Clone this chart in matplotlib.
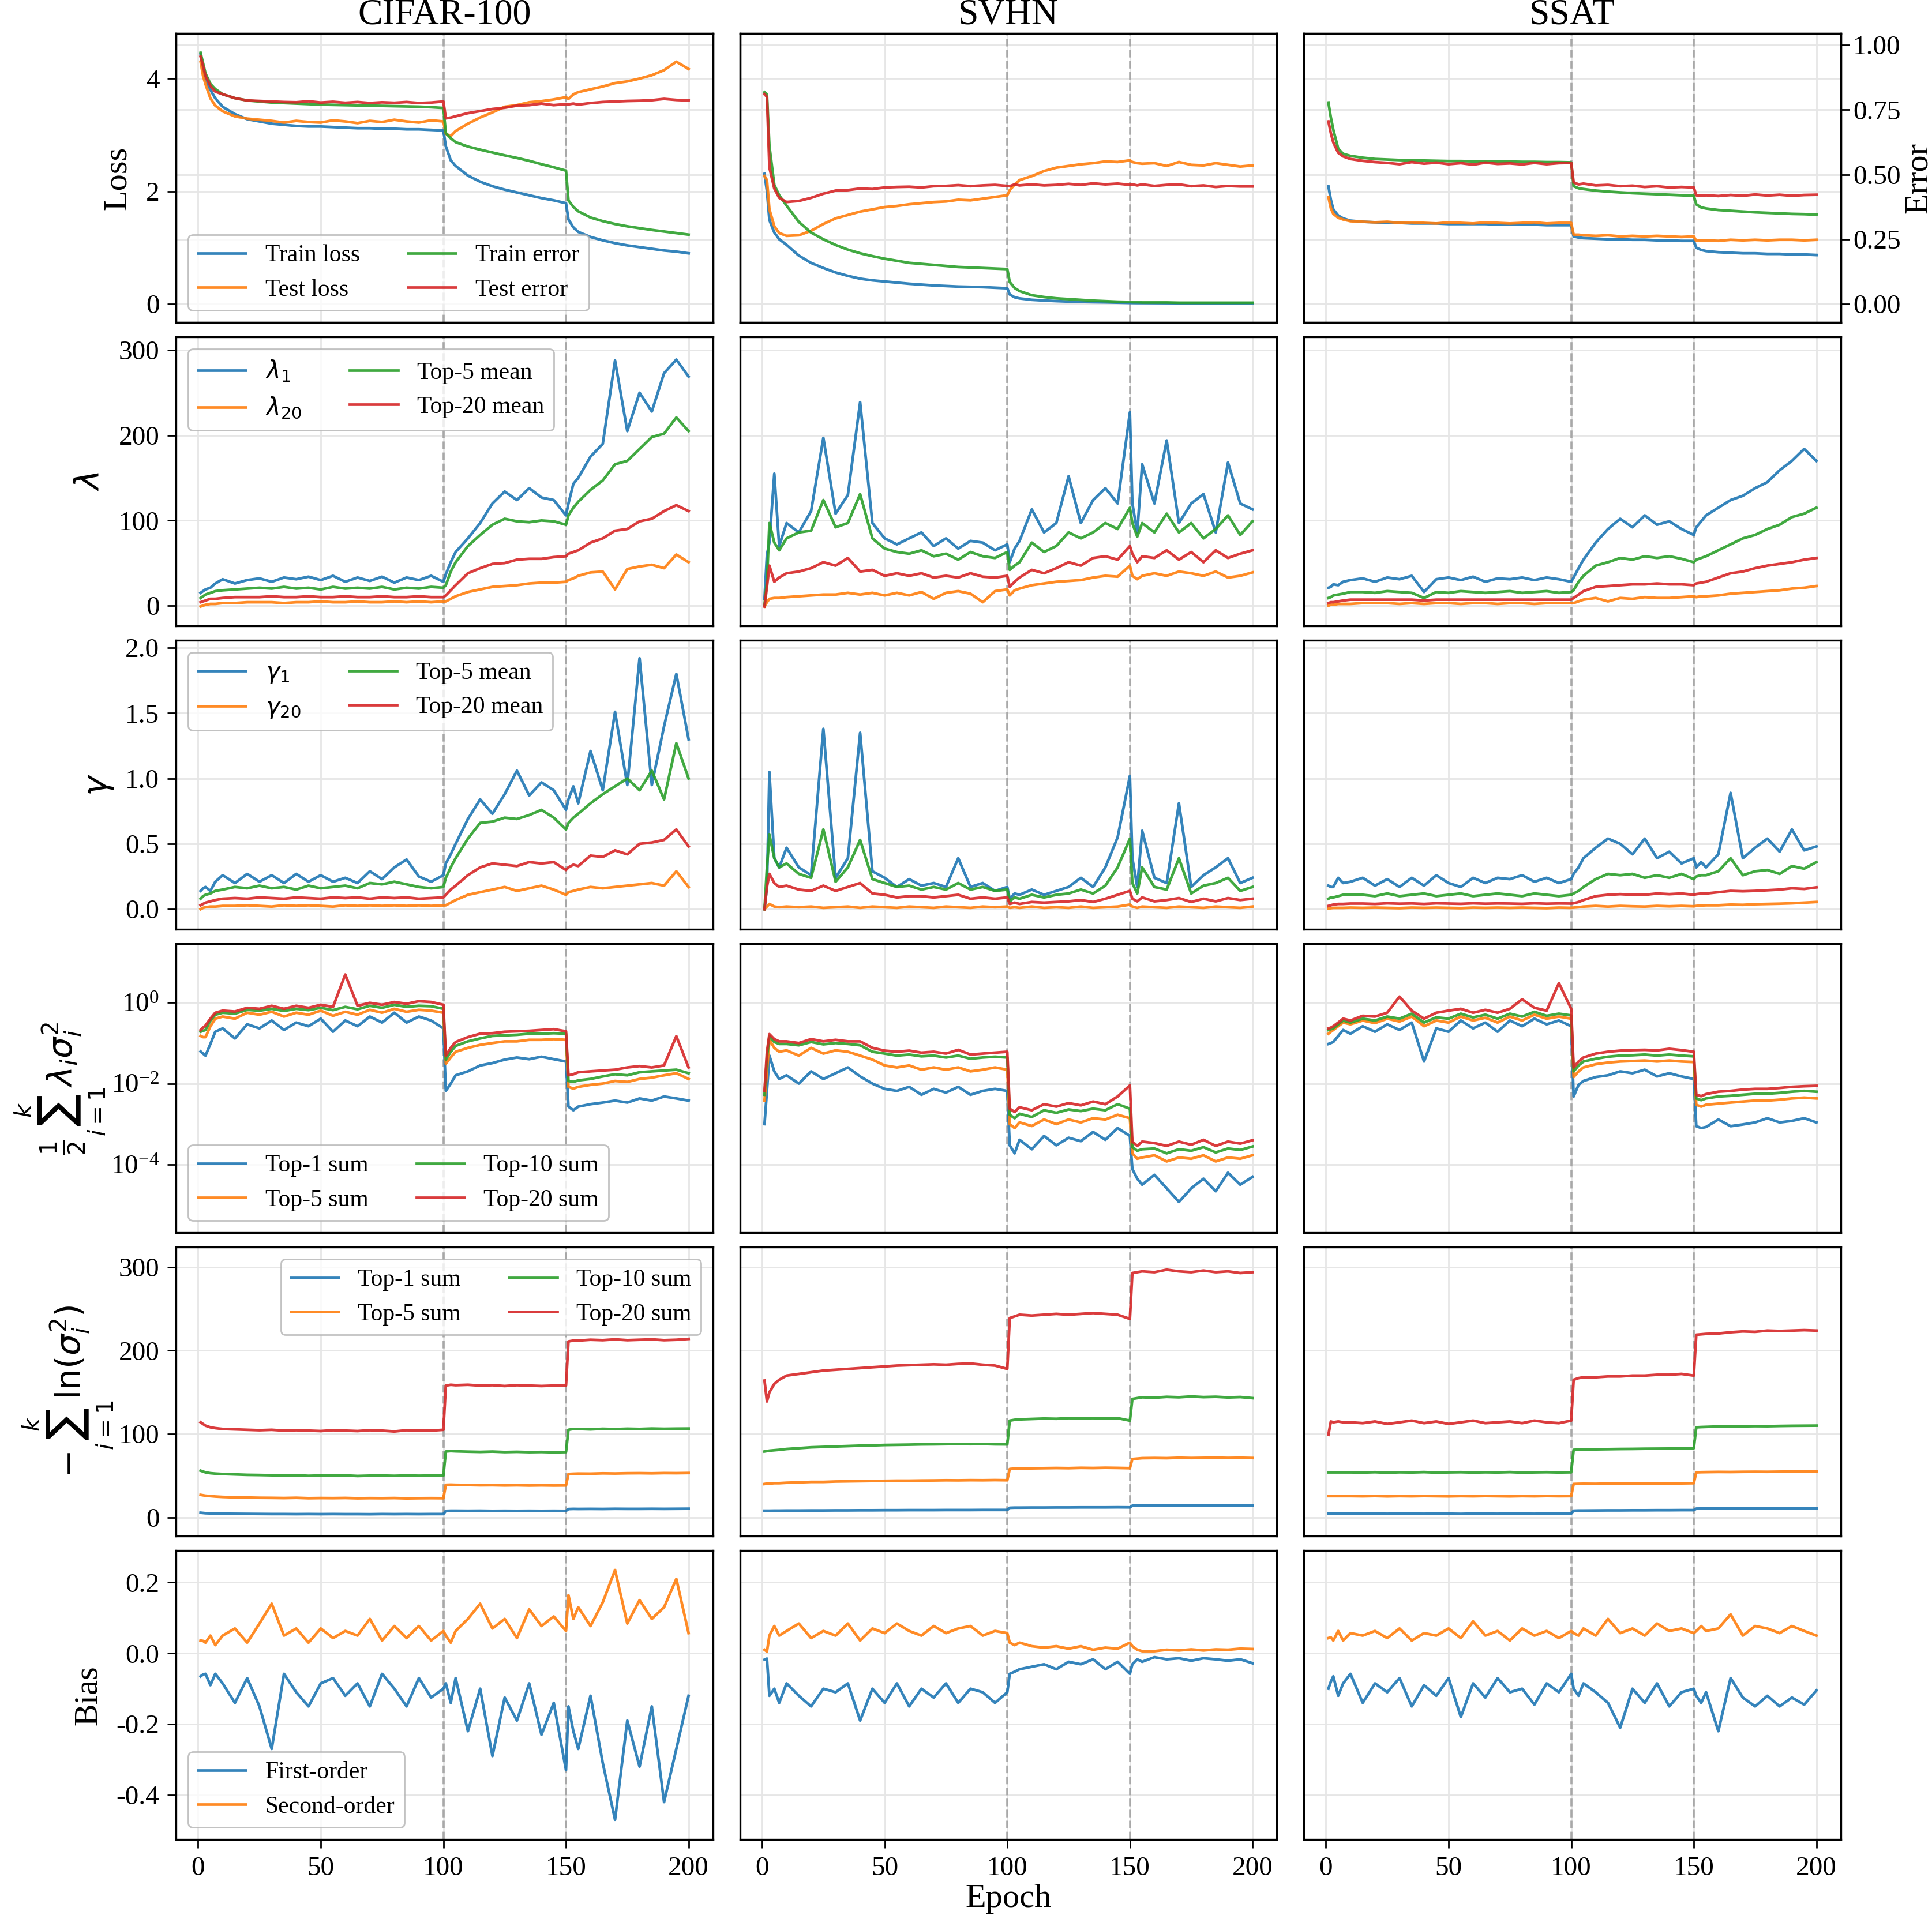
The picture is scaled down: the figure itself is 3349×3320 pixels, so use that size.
import matplotlib.pyplot as plt
from matplotlib.lines import Line2D
from matplotlib.ticker import NullLocator, FormatStrFormatter
from matplotlib.transforms import blended_transform_factory

plt.rcParams['font.family'] = ['Liberation Serif', 'DejaVu Serif']
plt.rcParams['mathtext.fontset'] = 'dejavusans'
plt.rcParams['axes.unicode_minus'] = False
plt.rcParams['axes.linewidth'] = 1.2

epochs = [1, 2, 3, 5, 7, 10,
          15, 20, 25, 30, 35, 40, 45, 50, 55, 60, 65, 70, 75, 80, 85, 90, 95, 100,
          101, 103,
          105, 110, 115, 120, 125, 130, 135, 140, 145, 150,
          151, 153,
          155, 160, 165, 170, 175, 180, 185, 190, 195, 200]

datasets = ['CIFAR-100', 'SVHN', 'SSAT']

# ---- row 1: loss / error ----
cifar_train_loss = [4.43, 4.20, 4.00, 3.80, 3.65, 3.50,
                    3.37, 3.28, 3.24, 3.20, 3.18, 3.16, 3.15, 3.15, 3.14, 3.13, 3.12, 3.12, 3.11, 3.11, 3.10, 3.10, 3.09, 3.08,
                    2.80, 2.55,
                    2.45, 2.28, 2.17, 2.09, 2.03, 1.98, 1.93, 1.88, 1.84, 1.79,
                    1.50, 1.36,
                    1.28, 1.19, 1.13, 1.08, 1.04, 1.01, 0.98, 0.95, 0.93, 0.90]
cifar_test_loss = [4.30, 4.05, 3.90, 3.65, 3.52, 3.42,
                   3.33, 3.29, 3.27, 3.25, 3.22, 3.25, 3.23, 3.22, 3.26, 3.24, 3.21, 3.25, 3.23, 3.27, 3.24, 3.22, 3.26, 3.24,
                   3.02, 2.98,
                   3.07, 3.20, 3.31, 3.40, 3.50, 3.53, 3.58, 3.60, 3.63, 3.67,
                   3.64, 3.72,
                   3.76, 3.81, 3.86, 3.92, 3.95, 4.00, 4.06, 4.15, 4.30, 4.17]
cifar_train_err = [0.970, 0.930, 0.890, 0.850, 0.830, 0.810,
                   0.795, 0.786, 0.782, 0.778, 0.776, 0.774, 0.772, 0.770, 0.769, 0.768, 0.767, 0.766, 0.765, 0.764, 0.763, 0.762, 0.760, 0.757,
                   0.660, 0.640,
                   0.625, 0.608, 0.596, 0.585, 0.574, 0.564, 0.553, 0.540, 0.528, 0.515,
                   0.400, 0.375,
                   0.358, 0.334, 0.320, 0.309, 0.300, 0.293, 0.286, 0.280, 0.274, 0.268]
cifar_test_err = [0.955, 0.920, 0.880, 0.842, 0.820, 0.810,
                  0.795, 0.786, 0.784, 0.782, 0.780, 0.779, 0.783, 0.778, 0.781, 0.777, 0.780, 0.776, 0.779, 0.777, 0.780, 0.776, 0.778, 0.782,
                  0.717, 0.720,
                  0.725, 0.737, 0.745, 0.753, 0.758, 0.766, 0.768, 0.774, 0.768, 0.772,
                  0.771, 0.774,
                  0.770, 0.776, 0.780, 0.782, 0.784, 0.785, 0.787, 0.792, 0.788, 0.786]

svhn_train_loss = [2.31, 2.00, 1.49, 1.27, 1.15, 1.05,
                   0.86, 0.73, 0.64, 0.56, 0.50, 0.45, 0.42, 0.40, 0.38, 0.36, 0.345, 0.33, 0.32, 0.31, 0.305, 0.30, 0.29, 0.28,
                   0.17, 0.12,
                   0.10, 0.075, 0.062, 0.052, 0.044, 0.037, 0.033, 0.030, 0.025, 0.020,
                   0.019, 0.018,
                   0.018, 0.017, 0.016, 0.015, 0.015, 0.014, 0.014, 0.013, 0.013, 0.012]
svhn_test_loss = [2.27, 2.20, 1.68, 1.38, 1.26, 1.21,
                  1.22, 1.30, 1.42, 1.52, 1.58, 1.64, 1.68, 1.72, 1.74, 1.77, 1.79, 1.81, 1.82, 1.85, 1.84, 1.87, 1.90, 1.93,
                  2.02, 2.12,
                  2.20, 2.27, 2.36, 2.42, 2.45, 2.48, 2.50, 2.53, 2.52, 2.55,
                  2.52, 2.50,
                  2.49, 2.50, 2.45, 2.52, 2.47, 2.46, 2.50, 2.47, 2.44, 2.46]
svhn_train_err = [0.818, 0.810, 0.610, 0.460, 0.420, 0.380,
                  0.317, 0.276, 0.250, 0.228, 0.210, 0.196, 0.185, 0.175, 0.167, 0.159, 0.155, 0.151, 0.147, 0.143, 0.141, 0.139, 0.137, 0.135,
                  0.085, 0.062,
                  0.050, 0.034, 0.027, 0.022, 0.019, 0.016, 0.013, 0.011, 0.009, 0.008,
                  0.007, 0.007,
                  0.006, 0.006, 0.006, 0.005, 0.005, 0.005, 0.005, 0.005, 0.005, 0.005]
svhn_test_err = [0.810, 0.800, 0.527, 0.446, 0.410, 0.394,
                 0.398, 0.410, 0.426, 0.438, 0.440, 0.446, 0.444, 0.450, 0.452, 0.453, 0.450, 0.455, 0.456, 0.459, 0.455, 0.458, 0.460, 0.456,
                 0.455, 0.462,
                 0.458, 0.462, 0.458, 0.460, 0.464, 0.460, 0.466, 0.462, 0.465, 0.460,
                 0.462, 0.458,
                 0.462, 0.456, 0.460, 0.462, 0.455, 0.458, 0.452, 0.456, 0.454, 0.454]

ssat_train_loss = [2.09, 1.85, 1.68, 1.57, 1.52, 1.48,
                   1.46, 1.45, 1.44, 1.44, 1.43, 1.43, 1.43, 1.42, 1.42, 1.42, 1.42, 1.41, 1.41, 1.41, 1.41, 1.40, 1.40, 1.40,
                   1.20, 1.18,
                   1.17, 1.16, 1.15, 1.15, 1.14, 1.14, 1.13, 1.13, 1.12, 1.12,
                   1.00, 0.96,
                   0.94, 0.92, 0.91, 0.90, 0.90, 0.89, 0.89, 0.88, 0.88, 0.87]
ssat_test_loss = [1.90, 1.70, 1.60, 1.53, 1.50, 1.47,
                  1.46, 1.45, 1.46, 1.44, 1.45, 1.44, 1.43, 1.45, 1.44, 1.43, 1.45, 1.44, 1.43, 1.44, 1.45, 1.43, 1.44, 1.44,
                  1.23, 1.23,
                  1.22, 1.21, 1.22, 1.20, 1.21, 1.20, 1.21, 1.20, 1.19, 1.20,
                  1.12, 1.13,
                  1.13, 1.12, 1.14, 1.13, 1.14, 1.13, 1.14, 1.14, 1.13, 1.14]
ssat_train_err = [0.778, 0.720, 0.673, 0.600, 0.580, 0.572,
                  0.565, 0.560, 0.558, 0.556, 0.555, 0.554, 0.553, 0.552, 0.552, 0.551, 0.551, 0.550, 0.550, 0.549, 0.549, 0.548, 0.548, 0.547,
                  0.455, 0.447,
                  0.444, 0.438, 0.434, 0.431, 0.428, 0.426, 0.424, 0.422, 0.420, 0.418,
                  0.385, 0.373,
                  0.369, 0.363, 0.360, 0.357, 0.354, 0.352, 0.350, 0.348, 0.347, 0.345]
ssat_test_err = [0.705, 0.660, 0.624, 0.584, 0.570, 0.560,
                 0.553, 0.548, 0.545, 0.540, 0.548, 0.542, 0.546, 0.540, 0.544, 0.538, 0.546, 0.541, 0.543, 0.539, 0.545, 0.540, 0.544, 0.545,
                 0.470, 0.462,
                 0.465, 0.458, 0.460, 0.455, 0.457, 0.452, 0.455, 0.450, 0.452, 0.450,
                 0.420, 0.418,
                 0.420, 0.417, 0.421, 0.418, 0.423, 0.419, 0.422, 0.418, 0.421, 0.422]

# ---- row 2: lambda ----
cifar_lam1 = [15, 17, 19, 21, 26, 31,
              26, 30, 32, 28, 33, 31, 34, 30, 35, 28, 33, 29, 34, 27, 33, 30, 35, 28,
              37, 51,
              63, 79, 97, 120, 134, 124, 138, 127, 124, 106,
              120, 143,
              150, 175, 190, 288, 205, 250, 228, 273, 289, 269]
cifar_lam20 = [-1, 0, 1, 2, 2, 3,
               3, 4, 4, 4, 3, 4, 4, 5, 4, 4, 5, 4, 4, 5, 4, 5, 4, 5,
               5, 8,
               11, 16, 19, 22, 23, 24, 26, 27, 27, 28,
               30, 32,
               35, 39, 40, 19, 43, 46, 48, 44, 60, 51]
cifar_lam_top5 = [9, 11, 13, 15, 17, 18,
                  19, 20, 21, 20, 22, 20, 21, 19, 22, 20, 21, 20, 22, 19, 21, 20, 22, 21,
                  24, 40,
                  51, 70, 83, 95, 102, 99, 98, 100, 99, 95,
                  106, 115,
                  122, 136, 147, 166, 170, 184, 198, 202, 221, 205]
cifar_lam_top20 = [4, 5, 6, 8, 8, 9,
                   10, 10, 10, 11, 10, 10, 11, 10, 10, 11, 10, 10, 11, 10, 10, 11, 10, 10,
                   12, 18,
                   24, 38, 44, 49, 50, 54, 55, 55, 57, 58,
                   61, 63,
                   65, 74, 79, 88, 90, 99, 102, 111, 118, 111]

svhn_lam1 = [8, 60, 74, 155, 70, 97,
             86, 111, 197, 108, 130, 239, 97, 79, 72, 79, 86, 70, 79, 67, 76, 74, 65, 72,
             51, 67,
             76, 113, 86, 97, 152, 97, 124, 138, 120, 227,
             120, 86,
             166, 120, 194, 97, 120, 131, 86, 168, 120, 113]
svhn_lam20 = [-1, 4, 8, 9, 9, 10,
              11, 12, 13, 13, 15, 13, 15, 12, 15, 12, 16, 8, 15, 17, 14, 4, 17, 19,
              12, 18,
              20, 24, 26, 28, 29, 30, 33, 35, 34, 47,
              35, 31,
              35, 38, 35, 40, 38, 35, 40, 33, 35, 39]
svhn_lam_top5 = [1, 28, 97, 74, 65, 79,
                 86, 88, 124, 92, 97, 131, 79, 67, 63, 61, 65, 58, 61, 54, 63, 58, 56, 63,
                 42, 47,
                 51, 74, 63, 70, 86, 79, 86, 97, 90, 115,
                 97, 81,
                 97, 86, 108, 86, 97, 79, 90, 106, 83, 99]
svhn_lam_top20 = [-1, 22, 47, 28, 33, 38,
                  40, 44, 51, 47, 56, 40, 42, 35, 38, 35, 38, 33, 35, 33, 38, 34, 33, 35,
                  22, 28,
                  33, 42, 38, 44, 51, 47, 56, 58, 54, 70,
                  61, 51,
                  58, 56, 65, 54, 63, 51, 65, 56, 61, 65]

ssat_lam1 = [21, 22, 25, 24, 28, 30,
             32, 28, 33, 31, 35, 16, 31, 33, 30, 34, 28, 32, 31, 33, 30, 33, 31, 28,
             33, 44,
             54, 74, 90, 102, 92, 106, 95, 99, 90, 83,
             92, 99,
             106, 115, 124, 129, 138, 145, 159, 170, 184, 170]
ssat_lam20 = [0, 1, 1, 2, 2, 2,
              3, 3, 3, 2, 3, 2, 3, 3, 2, 3, 3, 2, 3, 3, 2, 3, 3, 3,
              3, 5,
              7, 9, 5, 9, 8, 10, 9, 9, 10, 11,
              10, 11,
              11, 12, 14, 15, 16, 17, 18, 20, 21, 23]
ssat_lam_top5 = [9, 10, 12, 13, 14, 16,
                 16, 15, 17, 16, 15, 9, 16, 15, 17, 16, 15, 16, 17, 15, 16, 17, 15, 16,
                 18, 28,
                 35, 47, 51, 56, 54, 58, 56, 58, 55, 51,
                 54, 56,
                 58, 65, 72, 79, 83, 90, 95, 104, 108, 115]
ssat_lam_top20 = [3, 4, 4, 5, 6, 7,
                  7, 7, 7, 7, 7, 6, 7, 7, 7, 7, 7, 7, 7, 7, 7, 7, 7, 7,
                  9, 13,
                  17, 22, 23, 24, 25, 25, 26, 25, 25, 24,
                  26, 27,
                  28, 33, 38, 40, 44, 47, 49, 51, 54, 56]

# ---- row 3: gamma ----
cifar_gam1 = [0.14, 0.16, 0.17, 0.14, 0.21, 0.26,
              0.20, 0.27, 0.21, 0.26, 0.20, 0.27, 0.21, 0.26, 0.21, 0.24, 0.20, 0.29, 0.23, 0.32, 0.38, 0.25, 0.21, 0.26,
              0.35, 0.42,
              0.50, 0.69, 0.84, 0.73, 0.88, 1.06, 0.87, 0.97, 0.91, 0.76,
              0.84, 0.94,
              0.81, 1.21, 0.91, 1.51, 0.95, 1.92, 0.95, 1.40, 1.80, 1.30]
cifar_gam20 = [0.00, 0.01, 0.015, 0.02, 0.02, 0.025,
               0.025, 0.03, 0.025, 0.02, 0.03, 0.025, 0.03, 0.025, 0.02, 0.03, 0.025, 0.03, 0.025, 0.03, 0.025, 0.03, 0.025, 0.03,
               0.03, 0.05,
               0.07, 0.11, 0.13, 0.15, 0.17, 0.14, 0.16, 0.18, 0.15, 0.11,
               0.13, 0.14,
               0.15, 0.17, 0.16, 0.17, 0.18, 0.19, 0.20, 0.18, 0.29, 0.17]
cifar_gam_top5 = [0.08, 0.10, 0.11, 0.12, 0.14, 0.15,
                  0.17, 0.16, 0.18, 0.16, 0.17, 0.15, 0.18, 0.16, 0.17, 0.18, 0.16, 0.20, 0.19, 0.21, 0.19, 0.17, 0.16, 0.17,
                  0.24, 0.32,
                  0.39, 0.54, 0.66, 0.67, 0.70, 0.69, 0.72, 0.76, 0.70, 0.61,
                  0.66, 0.70,
                  0.73, 0.81, 0.88, 0.94, 1.00, 0.91, 1.06, 0.84, 1.27, 1.00]
cifar_gam_top20 = [0.03, 0.04, 0.05, 0.06, 0.07, 0.08,
                   0.085, 0.08, 0.09, 0.085, 0.08, 0.09, 0.085, 0.08, 0.09, 0.085, 0.09, 0.08, 0.09, 0.085, 0.09, 0.08, 0.085, 0.09,
                   0.11, 0.15,
                   0.18, 0.26, 0.32, 0.35, 0.34, 0.33, 0.36, 0.35, 0.36, 0.30,
                   0.32, 0.34,
                   0.33, 0.41, 0.40, 0.45, 0.42, 0.50, 0.51, 0.53, 0.61, 0.48]

svhn_gam1 = [0.00, 0.17, 1.05, 0.39, 0.32, 0.47,
             0.32, 0.26, 1.38, 0.24, 0.39, 1.35, 0.29, 0.24, 0.17, 0.23, 0.18, 0.20, 0.17, 0.39, 0.17, 0.20, 0.14, 0.17,
             0.08, 0.12,
             0.11, 0.15, 0.11, 0.14, 0.17, 0.24, 0.17, 0.32, 0.55, 1.02,
             0.39, 0.17,
             0.60, 0.24, 0.20, 0.81, 0.17, 0.26, 0.32, 0.39, 0.20, 0.24]
svhn_gam20 = [0.00, 0.02, 0.04, 0.02, 0.015, 0.02,
              0.015, 0.02, 0.01, 0.015, 0.02, 0.01, 0.02, 0.015, 0.01, 0.02, 0.015, 0.01, 0.02, 0.015, 0.01, 0.02, 0.015, 0.02,
              0.01, 0.015,
              0.01, 0.02, 0.01, 0.015, 0.01, 0.02, 0.01, 0.015, 0.02, 0.035,
              0.02, 0.01,
              0.02, 0.015, 0.01, 0.02, 0.015, 0.01, 0.02, 0.015, 0.01, 0.02]
svhn_gam_top5 = [0.00, 0.32, 0.57, 0.39, 0.32, 0.35,
                 0.27, 0.24, 0.61, 0.21, 0.32, 0.53, 0.23, 0.20, 0.17, 0.18, 0.15, 0.17, 0.15, 0.20, 0.15, 0.17, 0.14, 0.15,
                 0.06, 0.09,
                 0.08, 0.11, 0.09, 0.11, 0.12, 0.15, 0.12, 0.18, 0.32, 0.54,
                 0.20, 0.12,
                 0.32, 0.17, 0.15, 0.39, 0.12, 0.18, 0.20, 0.24, 0.14, 0.17]
svhn_gam_top20 = [0.00, 0.17, 0.27, 0.20, 0.17, 0.18,
                  0.15, 0.14, 0.18, 0.14, 0.17, 0.20, 0.12, 0.11, 0.09, 0.10, 0.10, 0.09, 0.10, 0.11, 0.08, 0.09, 0.08, 0.09,
                  0.04, 0.05,
                  0.04, 0.055, 0.05, 0.055, 0.06, 0.07, 0.055, 0.08, 0.11, 0.14,
                  0.08, 0.06,
                  0.09, 0.06, 0.07, 0.085, 0.055, 0.08, 0.06, 0.085, 0.07, 0.08]

ssat_gam1 = [0.18, 0.17, 0.17, 0.24, 0.20, 0.21,
             0.24, 0.18, 0.23, 0.17, 0.24, 0.18, 0.26, 0.20, 0.17, 0.24, 0.20, 0.24, 0.23, 0.26, 0.21, 0.24, 0.20, 0.23,
             0.27, 0.32,
             0.39, 0.47, 0.54, 0.50, 0.42, 0.54, 0.39, 0.44, 0.35, 0.39,
             0.32, 0.36,
             0.32, 0.42, 0.89, 0.39, 0.47, 0.54, 0.44, 0.61, 0.45, 0.48]
ssat_gam20 = [0.005, 0.008, 0.01, 0.01, 0.01, 0.012,
              0.01, 0.012, 0.01, 0.008, 0.012, 0.01, 0.012, 0.01, 0.008, 0.012, 0.01, 0.012, 0.01, 0.012, 0.01, 0.008, 0.012, 0.01,
              0.012, 0.015,
              0.02, 0.025, 0.02, 0.025, 0.022, 0.02, 0.025, 0.022, 0.025, 0.022,
              0.025, 0.028,
              0.03, 0.03, 0.035, 0.033, 0.038, 0.04, 0.042, 0.045, 0.05, 0.055]
ssat_gam_top5 = [0.08, 0.09, 0.09, 0.10, 0.11, 0.11,
                 0.11, 0.10, 0.12, 0.10, 0.11, 0.12, 0.10, 0.11, 0.12, 0.10, 0.11, 0.12, 0.11, 0.10, 0.12, 0.11, 0.10, 0.11,
                 0.12, 0.14,
                 0.17, 0.23, 0.27, 0.26, 0.27, 0.24, 0.26, 0.24, 0.27, 0.23,
                 0.25, 0.26,
                 0.26, 0.29, 0.39, 0.26, 0.29, 0.30, 0.27, 0.33, 0.31, 0.36]
ssat_gam_top20 = [0.025, 0.03, 0.035, 0.04, 0.04, 0.043,
                  0.043, 0.04, 0.045, 0.042, 0.044, 0.04, 0.045, 0.043, 0.041, 0.045, 0.042, 0.044, 0.043, 0.041, 0.045, 0.042, 0.044, 0.043,
                  0.045, 0.055,
                  0.07, 0.10, 0.11, 0.115, 0.11, 0.11, 0.12, 0.115, 0.12, 0.11,
                  0.115, 0.12,
                  0.12, 0.13, 0.14, 0.137, 0.14, 0.145, 0.15, 0.16, 0.155, 0.167]

# ---- row 4: 1/2 sum lambda_i sigma_i^2 (log scale) ----
cifar_sum1 = [0.062, 0.055, 0.049, 0.095, 0.19, 0.23,
              0.13, 0.29, 0.23, 0.36, 0.21, 0.32, 0.26, 0.40, 0.19, 0.36, 0.26, 0.45, 0.32, 0.56, 0.32, 0.45, 0.36, 0.23,
              0.0066, 0.010,
              0.016, 0.020, 0.028, 0.032, 0.039, 0.044, 0.040, 0.046, 0.040, 0.035,
              0.0027, 0.0022,
              0.0027, 0.0031, 0.0034, 0.0038, 0.0034, 0.0043, 0.0038, 0.0048, 0.0043, 0.0038]
cifar_sum5 = [0.15, 0.14, 0.14, 0.26, 0.40, 0.45,
              0.40, 0.56, 0.50, 0.59, 0.45, 0.56, 0.50, 0.63, 0.47, 0.59, 0.50, 0.66, 0.56, 0.70, 0.59, 0.66, 0.63, 0.56,
              0.031, 0.044,
              0.061, 0.076, 0.090, 0.10, 0.11, 0.11, 0.12, 0.12, 0.125, 0.12,
              0.0083, 0.0075,
              0.0083, 0.0093, 0.010, 0.0116, 0.011, 0.013, 0.014, 0.016, 0.018, 0.013]
cifar_sum10 = [0.19, 0.20, 0.21, 0.36, 0.50, 0.56,
               0.53, 0.66, 0.63, 0.70, 0.62, 0.70, 0.65, 0.74, 0.65, 0.78, 0.68, 0.83, 0.74, 0.88, 0.78, 0.83, 0.81, 0.70,
               0.039, 0.061,
               0.085, 0.11, 0.13, 0.15, 0.155, 0.16, 0.17, 0.17, 0.175, 0.17,
               0.0116, 0.011,
               0.012, 0.013, 0.015, 0.017, 0.016, 0.019, 0.020, 0.021, 0.022, 0.018]
cifar_sum20 = [0.21, 0.24, 0.27, 0.40, 0.56, 0.63,
               0.60, 0.74, 0.70, 0.83, 0.70, 0.83, 0.74, 0.88, 0.78, 4.9, 0.83, 0.98, 0.88, 1.03, 0.93, 1.08, 1.03, 0.88,
               0.049, 0.076,
               0.106, 0.14, 0.17, 0.175, 0.19, 0.195, 0.20, 0.21, 0.22, 0.195,
               0.016, 0.017,
               0.019, 0.020, 0.021, 0.022, 0.025, 0.027, 0.025, 0.028, 0.148, 0.025]

svhn_sum1 = [0.001, 0.0066, 0.049, 0.020, 0.013, 0.016,
             0.010, 0.020, 0.013, 0.018, 0.025, 0.015, 0.010, 0.0074, 0.0066, 0.0083, 0.0053, 0.0074, 0.006, 0.0083, 0.0053, 0.0066, 0.0074, 0.0066,
             0.0003, 0.00019,
             0.00041, 0.00024, 0.00051, 0.0003, 0.00046, 0.00038, 0.00064, 0.00041, 0.0008, 0.00051,
             7.8e-5, 4.5e-5,
             3.2e-5, 5.6e-5, 2.6e-5, 1.2e-5, 2.6e-5, 4.5e-5, 2.2e-5, 6.3e-5, 3.2e-5, 5e-5]
svhn_sum5 = [0.0038, 0.020, 0.12, 0.076, 0.061, 0.066,
             0.049, 0.076, 0.055, 0.066, 0.061, 0.049, 0.039, 0.028, 0.025, 0.028, 0.022, 0.025, 0.022, 0.025, 0.020, 0.022, 0.025, 0.022,
             0.001, 0.0008,
             0.0011, 0.0009, 0.0013, 0.001, 0.0013, 0.0011, 0.0014, 0.0013, 0.0017, 0.0014,
             0.00019, 0.00014,
             0.00015, 0.00017, 0.00012, 0.00015, 0.00014, 0.00017, 0.00012, 0.00015, 0.00014, 0.00017]
svhn_sum10 = [0.0053, 0.045, 0.15, 0.106, 0.095, 0.095,
              0.088, 0.106, 0.093, 0.10, 0.095, 0.088, 0.061, 0.055, 0.049, 0.052, 0.047, 0.049, 0.044, 0.049, 0.041, 0.044, 0.046, 0.044,
              0.0017, 0.0014,
              0.0018, 0.0015, 0.0022, 0.0019, 0.0023, 0.0021, 0.0024, 0.0022, 0.0031, 0.0024,
              0.00027, 0.00022,
              0.00024, 0.00025, 0.00019, 0.00024, 0.00022, 0.00027, 0.00020, 0.00025, 0.00023, 0.00028]
svhn_sum20 = [0.0066, 0.061, 0.166, 0.125, 0.11, 0.11,
              0.10, 0.125, 0.11, 0.12, 0.11, 0.11, 0.076, 0.065, 0.061, 0.065, 0.058, 0.061, 0.055, 0.068, 0.052, 0.055, 0.058, 0.061,
              0.0024, 0.0020,
              0.0026, 0.0022, 0.0031, 0.0027, 0.0033, 0.0029, 0.0036, 0.0031, 0.0048, 0.009,
              0.00037, 0.00029,
              0.00037, 0.00034, 0.00029, 0.00037, 0.00031, 0.00041, 0.00029, 0.00037, 0.00033, 0.0004]

ssat_sum1 = [0.095, 0.10, 0.106, 0.15, 0.21, 0.17,
             0.26, 0.19, 0.29, 0.21, 0.32, 0.035, 0.23, 0.19, 0.36, 0.23, 0.32, 0.19, 0.36, 0.26, 0.40, 0.29, 0.36, 0.26,
             0.0048, 0.0093,
             0.0116, 0.0145, 0.016, 0.020, 0.018, 0.022, 0.015, 0.018, 0.015, 0.013,
             0.00089, 0.00080,
             0.00085, 0.0013, 0.00089, 0.00098, 0.0011, 0.0014, 0.0011, 0.0012, 0.0014, 0.0011]
ssat_sum5 = [0.17, 0.19, 0.21, 0.26, 0.32, 0.29,
             0.36, 0.31, 0.40, 0.34, 0.45, 0.26, 0.36, 0.32, 0.45, 0.36, 0.42, 0.32, 0.45, 0.36, 0.50, 0.40, 0.45, 0.40,
             0.0145, 0.020,
             0.025, 0.030, 0.033, 0.035, 0.036, 0.037, 0.035, 0.037, 0.035, 0.034,
             0.0030, 0.0027,
             0.0030, 0.0032, 0.0034, 0.0036, 0.0038, 0.0038, 0.0040, 0.0043, 0.0045, 0.0043]
ssat_sum10 = [0.21, 0.22, 0.23, 0.29, 0.36, 0.32,
              0.40, 0.36, 0.45, 0.40, 0.53, 0.32, 0.43, 0.40, 0.53, 0.43, 0.50, 0.40, 0.53, 0.45, 0.59, 0.47, 0.53, 0.48,
              0.020, 0.028,
              0.035, 0.041, 0.046, 0.049, 0.050, 0.052, 0.049, 0.052, 0.049, 0.047,
              0.0043, 0.0039,
              0.0043, 0.0048, 0.0050, 0.0053, 0.0056, 0.0056, 0.0059, 0.0063, 0.0066, 0.0063]
ssat_sum20 = [0.23, 0.24, 0.26, 0.32, 0.40, 0.36,
              0.47, 0.45, 0.56, 1.4, 0.63, 0.40, 0.56, 0.63, 0.70, 0.56, 0.66, 0.56, 0.70, 1.2, 0.74, 0.63, 3.0, 0.70,
              0.025, 0.035,
              0.044, 0.055, 0.061, 0.065, 0.067, 0.068, 0.066, 0.072, 0.067, 0.061,
              0.0053, 0.0049,
              0.0055, 0.0063, 0.0066, 0.0071, 0.0074, 0.0074, 0.0078, 0.0083, 0.0086, 0.0088]

# ---- row 5: -sum ln(sigma_i^2) ----
cifar_ln1 = [5.6, 5.3, 5.0, 4.8, 4.5, 4.4,
             4.3, 4.2, 4.1, 4.0, 4.0, 3.9, 4.0, 3.9, 4.0, 3.9, 3.9, 3.8, 4.0, 3.9, 4.0, 3.9, 4.0, 4.0,
             7.8, 8.0,
             8.0, 7.9, 8.0, 7.8, 7.9, 7.8, 7.9, 7.8, 7.9, 7.8,
             10.0, 10.2,
             10.1, 10.2, 10.1, 10.3, 10.2, 10.2, 10.3, 10.2, 10.3, 10.4]
cifar_ln5 = [27, 26.5, 26, 25.5, 25, 24.5,
             24, 23.8, 23.5, 23.4, 23.2, 23.5, 23.0, 23.2, 23.1, 23.3, 22.9, 23.1, 23.0, 23.2, 22.8, 23.0, 23.1, 23.0,
             39, 39.2,
             39, 38.8, 38.5, 38.6, 38.3, 38.5, 38.2, 38.4, 38.2, 38.3,
             52, 52.3,
             52.5, 52.4, 52.8, 52.6, 52.9, 53.0, 52.8, 53.1, 53.0, 53.2]
cifar_ln10 = [56, 55, 54, 53, 52.5, 52,
              51.5, 51, 50.8, 50.5, 50.3, 50.5, 49.8, 50.2, 50.0, 50.3, 49.6, 50.0, 50.1, 49.8, 50.2, 49.9, 50.1, 50.0,
              79, 79.5,
              79.2, 78.8, 78.5, 78.9, 78.3, 78.6, 78.2, 78.4, 78.0, 78.3,
              105, 106,
              106, 105.5, 106.2, 105.8, 106.3, 106, 106.5, 106.2, 106.4, 106.5]
cifar_ln20 = [114, 112, 110, 108, 107, 106,
              105.5, 105, 104.5, 105, 104, 104.5, 104, 103.5, 104.5, 104, 103.5, 104.5, 104, 103, 104.5, 104, 104, 105,
              158, 159,
              158.5, 159, 158, 158.5, 157.5, 158.5, 158, 157.5, 158, 158,
              211, 212,
              212, 213, 212.5, 213.5, 212.5, 213, 213.5, 212.5, 213, 214]

svhn_ln1 = [8.0, 8.0, 8.0, 8.1, 8.1, 8.2,
            8.2, 8.3, 8.3, 8.4, 8.4, 8.5, 8.5, 8.6, 8.6, 8.7, 8.7, 8.7, 8.8, 8.8, 8.8, 8.9, 8.9, 8.9,
            11.5, 11.7,
            11.7, 11.8, 11.8, 11.9, 11.9, 12.0, 12.0, 12.0, 12.1, 12.0,
            14.0, 14.1,
            14.1, 14.2, 14.2, 14.3, 14.2, 14.3, 14.3, 14.4, 14.3, 14.4]
svhn_ln5 = [40, 40.5, 40.5, 41, 41, 41.5,
            42, 42.5, 42.5, 43, 43.2, 43.4, 43.6, 43.8, 44, 44, 44.2, 44.3, 44.5, 44.4, 44.6, 44.5, 44.7, 44.5,
            58, 58.5,
            58.5, 58.8, 59, 59.2, 59, 59.4, 59.2, 59.5, 59.3, 59,
            70, 70.5,
            71, 71.2, 71, 71.5, 71.2, 71.4, 71.6, 71.3, 71.5, 71.2]
svhn_ln10 = [79, 79.5, 80, 80.5, 81, 82,
             83, 84, 84.5, 85, 85.5, 86, 86.3, 86.8, 87, 87.2, 87.5, 87.6, 87.8, 88, 87.8, 88, 87.6, 87.5,
             116, 117,
             117.5, 118, 118.5, 118.2, 119, 118.8, 119, 118.5, 119, 116,
             142, 143,
             144, 143.5, 144.5, 144, 145, 144.2, 144.6, 143.8, 144.3, 143]
svhn_ln20 = [164, 139, 150, 160, 165, 170,
             172, 174, 176, 177, 178, 179, 180, 181, 182, 182.5, 183, 183.5, 183, 184, 184.5, 183, 182, 178,
             239, 241,
             243, 242, 243, 244, 243, 244, 245, 244, 243, 238,
             293, 294,
             295, 294, 297, 295, 294, 296, 294, 295, 293, 294]

ssat_ln1 = [4.5, 4.5, 4.5, 4.5, 4.5, 4.5,
            4.4, 4.5, 4.3, 4.5, 4.4, 4.3, 4.5, 4.4, 4.2, 4.5, 4.4, 4.3, 4.5, 4.4, 4.3, 4.5, 4.4, 4.5,
            8.0, 8.2,
            8.2, 8.3, 8.4, 8.4, 8.5, 8.5, 8.6, 8.6, 8.7, 8.7,
            10.5, 10.6,
            10.6, 10.7, 10.7, 10.8, 10.8, 10.9, 10.9, 11.0, 11.0, 11.0]
ssat_ln5 = [25.5, 25.5, 25.5, 25.5, 25.5, 25.5,
            25.3, 25.6, 25.2, 25.5, 25.3, 25.6, 25.4, 25.2, 25.5, 25.3, 25.6, 25.4, 25.2, 25.5, 25.3, 25.6, 25.4, 25.5,
            40, 40.2,
            40.3, 40.2, 40.5, 40.4, 40.6, 40.5, 40.7, 40.6, 40.8, 41,
            54, 54.2,
            54.3, 54.5, 54.4, 54.6, 54.7, 54.6, 54.8, 54.9, 55, 55]
ssat_ln10 = [54, 54, 54, 54, 54, 54,
             53.8, 54.2, 53.6, 54.1, 53.9, 54.3, 53.7, 54.0, 54.2, 53.8, 54.1, 53.9, 54.3, 53.7, 54.0, 54.2, 53.9, 54.1,
             81, 81.3,
             81.5, 81.6, 81.8, 82, 82.1, 82.3, 82.4, 82.5, 82.7, 83,
             108, 108.3,
             108.5, 109, 108.8, 109.2, 109.4, 109.3, 109.6, 109.8, 109.9, 110]
ssat_ln20 = [99, 115, 114, 115, 114, 114,
             113, 115, 112, 114, 116, 113, 115, 112, 114, 116, 113, 114, 115, 113, 116, 114, 113, 116,
             165, 167,
             168, 168, 169, 169, 170, 170, 171, 171, 172, 170,
             219, 219.5,
             220, 220.5, 222, 223, 222.5, 224, 223.5, 224, 224.5, 224]

# ---- row 6: bias ----
cifar_bias1 = [-0.065, -0.060, -0.058, -0.090, -0.058, -0.085,
               -0.14, -0.070, -0.15, -0.27, -0.058, -0.11, -0.15, -0.085, -0.070, -0.12, -0.085, -0.15, -0.058, -0.10, -0.15, -0.070, -0.125, -0.10,
               -0.085, -0.14,
               -0.070, -0.22, -0.10, -0.29, -0.125, -0.19, -0.085, -0.23, -0.14, -0.33,
               -0.15, -0.22,
               -0.27, -0.12, -0.31, -0.47, -0.19, -0.32, -0.15, -0.42, -0.27, -0.12]
cifar_bias2 = [0.036, 0.035, 0.030, 0.050, 0.023, 0.050,
               0.070, 0.030, 0.084, 0.140, 0.050, 0.070, 0.030, 0.070, 0.043, 0.063, 0.050, 0.097, 0.036, 0.077, 0.043, 0.077, 0.036, 0.063,
               0.050, 0.030,
               0.063, 0.097, 0.140, 0.070, 0.097, 0.043, 0.124, 0.077, 0.104, 0.063,
               0.164, 0.097,
               0.13, 0.077, 0.144, 0.235, 0.084, 0.15, 0.097, 0.13, 0.21, 0.057]

svhn_bias1 = [-0.018, -0.015, -0.12, -0.10, -0.14, -0.085,
              -0.12, -0.15, -0.10, -0.11, -0.085, -0.19, -0.10, -0.14, -0.085, -0.15, -0.10, -0.125, -0.085, -0.14, -0.10, -0.11, -0.14, -0.11,
              -0.058, -0.052,
              -0.045, -0.038, -0.031, -0.045, -0.024, -0.031, -0.017, -0.045, -0.024, -0.058,
              -0.031, -0.017,
              -0.024, -0.011, -0.017, -0.014, -0.021, -0.014, -0.017, -0.021, -0.017, -0.028]
svhn_bias2 = [0.010, 0.005, 0.050, 0.077, 0.050, 0.063,
              0.084, 0.043, 0.063, 0.050, 0.084, 0.036, 0.070, 0.057, 0.084, 0.063, 0.050, 0.077, 0.057, 0.070, 0.077, 0.050, 0.063, 0.057,
              0.030, 0.023,
              0.030, 0.020, 0.016, 0.020, 0.013, 0.020, 0.010, 0.016, 0.013, 0.030,
              0.020, 0.010,
              0.006, 0.006, 0.010, 0.008, 0.011, 0.008, 0.011, 0.010, 0.013, 0.012]

ssat_bias1 = [-0.10, -0.08, -0.065, -0.12, -0.085, -0.058,
              -0.14, -0.085, -0.11, -0.070, -0.15, -0.09, -0.12, -0.070, -0.18, -0.085, -0.125, -0.070, -0.11, -0.10, -0.145, -0.085, -0.11, -0.058,
              -0.10, -0.12,
              -0.085, -0.11, -0.14, -0.21, -0.10, -0.14, -0.085, -0.15, -0.11, -0.10,
              -0.12, -0.14,
              -0.11, -0.22, -0.070, -0.125, -0.15, -0.12, -0.15, -0.125, -0.145, -0.105]
ssat_bias2 = [0.043, 0.045, 0.036, 0.063, 0.036, 0.057,
              0.050, 0.063, 0.043, 0.070, 0.036, 0.057, 0.050, 0.070, 0.043, 0.090, 0.050, 0.063, 0.036, 0.070, 0.050, 0.063, 0.043, 0.063,
              0.057, 0.050,
              0.070, 0.050, 0.097, 0.057, 0.070, 0.050, 0.084, 0.063, 0.070, 0.057,
              0.063, 0.077,
              0.063, 0.070, 0.110, 0.050, 0.077, 0.070, 0.057, 0.077, 0.063, 0.050]

colors = ['#1f77b4', '#ff7f0e', '#2ca02c', '#d62728']
LW = 1.7
ALPHA = 0.9

loss_data = [(cifar_train_loss, cifar_test_loss), (svhn_train_loss, svhn_test_loss), (ssat_train_loss, ssat_test_loss)]
err_data = [(cifar_train_err, cifar_test_err), (svhn_train_err, svhn_test_err), (ssat_train_err, ssat_test_err)]

# rows 2-5: four series per panel, colour order C0..C3
four_rows = [
    ([(cifar_lam1, cifar_lam20, cifar_lam_top5, cifar_lam_top20),
      (svhn_lam1, svhn_lam20, svhn_lam_top5, svhn_lam_top20),
      (ssat_lam1, ssat_lam20, ssat_lam_top5, ssat_lam_top20)],
     [r'$\lambda_1$', r'$\lambda_{20}$', 'Top-5 mean', 'Top-20 mean'], 'upper left'),
    ([(cifar_gam1, cifar_gam20, cifar_gam_top5, cifar_gam_top20),
      (svhn_gam1, svhn_gam20, svhn_gam_top5, svhn_gam_top20),
      (ssat_gam1, ssat_gam20, ssat_gam_top5, ssat_gam_top20)],
     [r'$\gamma_1$', r'$\gamma_{20}$', 'Top-5 mean', 'Top-20 mean'], 'upper left'),
    ([(cifar_sum1, cifar_sum5, cifar_sum10, cifar_sum20),
      (svhn_sum1, svhn_sum5, svhn_sum10, svhn_sum20),
      (ssat_sum1, ssat_sum5, ssat_sum10, ssat_sum20)],
     ['Top-1 sum', 'Top-5 sum', 'Top-10 sum', 'Top-20 sum'], 'lower left'),
    ([(cifar_ln1, cifar_ln5, cifar_ln10, cifar_ln20),
      (svhn_ln1, svhn_ln5, svhn_ln10, svhn_ln20),
      (ssat_ln1, ssat_ln5, ssat_ln10, ssat_ln20)],
     ['Top-1 sum', 'Top-5 sum', 'Top-10 sum', 'Top-20 sum'], 'upper right'),
]
bias_data = [(cifar_bias1, cifar_bias2), (svhn_bias1, svhn_bias2), (ssat_bias1, ssat_bias2)]

# quick sanity check on the hand-typed lists
for name, val in list(globals().items()):
    if isinstance(val, list) and name.startswith(('cifar_', 'svhn_', 'ssat_')):
        assert len(val) == len(epochs), (name, len(val))

fig, axes = plt.subplots(6, 3, figsize=(16.745, 16.6), sharex=True, sharey='row')
fig.subplots_adjust(left=0.0912, right=0.9528, top=0.9825, bottom=0.0394,
                    wspace=0.0505, hspace=0.05)

GRID = dict(color='#e6e6e6', linewidth=1.0)
LEG = dict(fontsize=15, edgecolor='0.7')


def base_style(ax):
    ax.grid(True, **GRID)
    ax.set_axisbelow(True)
    for x in (100, 150):
        ax.axvline(x, color='#a8a8a8', ls='--', lw=1.3, zorder=1)
    ax.tick_params(labelsize=17, length=5.5, width=1.0, pad=5)


# row 1
for j in range(3):
    ax = axes[0, j]
    base_style(ax)
    l1, = ax.plot(epochs, loss_data[j][0], color=colors[0], lw=LW, alpha=ALPHA)
    l2, = ax.plot(epochs, loss_data[j][1], color=colors[1], lw=LW, alpha=ALPHA)
    tw = ax.twinx()
    l3, = tw.plot(epochs, err_data[j][0], color=colors[2], lw=LW, alpha=ALPHA)
    l4, = tw.plot(epochs, err_data[j][1], color=colors[3], lw=LW, alpha=ALPHA)
    tw.set_ylim(-0.0712, 1.0445)
    err_ticks = [0, 0.25, 0.5, 0.75, 1.0]
    tw.set_yticks(err_ticks)
    # error-axis grid drawn underneath the loss curves
    trans = blended_transform_factory(ax.transAxes, tw.transData)
    for e in err_ticks:
        ax.add_line(Line2D([0, 1], [e, e], transform=trans, zorder=0.6, **GRID))
    tw.tick_params(bottom=False, left=False, labelleft=False)
    if j < 2:
        tw.tick_params(right=False, labelright=False, length=0)
    else:
        tw.yaxis.set_major_formatter(FormatStrFormatter('%.2f'))
        tw.tick_params(labelsize=17, length=5.5, width=1.0, pad=2)
        tw.set_ylabel('Error', fontsize=21, labelpad=2)
    if j == 0:
        tw.legend([l1, l2, l3, l4], ['Train loss', 'Test loss', 'Train error', 'Test error'],
                  loc='lower left', ncol=2, **LEG)
    ax.set_title(datasets[j], fontsize=23)
axes[0, 0].set_ylim(-0.327, 4.80)
axes[0, 0].set_yticks([0, 2, 4])
axes[0, 0].set_ylabel('Loss', fontsize=21, labelpad=8)

# rows 2-5
for r, (panels, labels, loc) in enumerate(four_rows, start=1):
    for j in range(3):
        ax = axes[r, j]
        base_style(ax)
        handles = []
        for k in range(4):
            h, = ax.plot(epochs, panels[j][k], color=colors[k], lw=LW, alpha=ALPHA)
            handles.append(h)
        if j == 0:
            ax.legend(handles, labels, loc=loc, ncol=2, **LEG)

axes[1, 0].set_ylim(-23.8, 315.6)
axes[1, 0].set_yticks([0, 100, 200, 300])
axes[1, 0].set_ylabel(r'$\lambda$', fontsize=21, labelpad=8)

axes[2, 0].set_ylim(-0.154, 2.057)
axes[2, 0].set_yticks([0, 0.5, 1.0, 1.5, 2.0])
axes[2, 0].set_ylabel(r'$\gamma$', fontsize=21, labelpad=6)

axes[3, 0].set_yscale('log')
axes[3, 0].set_ylim(10 ** -5.68, 10 ** 1.45)
axes[3, 0].set_yticks([1e-4, 1e-2, 1e0])
for j in range(3):
    axes[3, j].yaxis.set_minor_locator(NullLocator())
axes[3, 0].set_ylabel(r'$\frac{1}{2}\sum_{i=1}^{k}\lambda_i\sigma_i^2$', fontsize=21, labelpad=2)

axes[4, 0].set_ylim(-22.5, 324)
axes[4, 0].set_yticks([0, 100, 200, 300])
axes[4, 0].set_ylabel(r'$-\sum_{i=1}^{k}\ln(\sigma_i^2)$', fontsize=21, labelpad=2)

# row 6
for j in range(3):
    ax = axes[5, j]
    base_style(ax)
    b1, = ax.plot(epochs, bias_data[j][0], color=colors[0], lw=LW, alpha=ALPHA)
    b2, = ax.plot(epochs, bias_data[j][1], color=colors[1], lw=LW, alpha=ALPHA)
    if j == 0:
        ax.legend([b1, b2], ['First-order', 'Second-order'], loc='lower left', **LEG)
    ax.set_xticks([0, 50, 100, 150, 200])
axes[5, 0].set_ylim(-0.526, 0.29)
axes[5, 0].set_yticks([-0.4, -0.2, 0.0, 0.2])
axes[5, 0].set_ylabel('Bias', fontsize=21, labelpad=8)
axes[5, 1].set_xlabel('Epoch', fontsize=21, labelpad=2)

# tick marks only on the outer edges of the grid
for r in range(6):
    for j in range(3):
        if j > 0:
            axes[r, j].tick_params(axis='y', which='both', left=False, length=0)
        if r < 5:
            axes[r, j].tick_params(axis='x', which='both', bottom=False)

plt.savefig('out.png', dpi=200)
